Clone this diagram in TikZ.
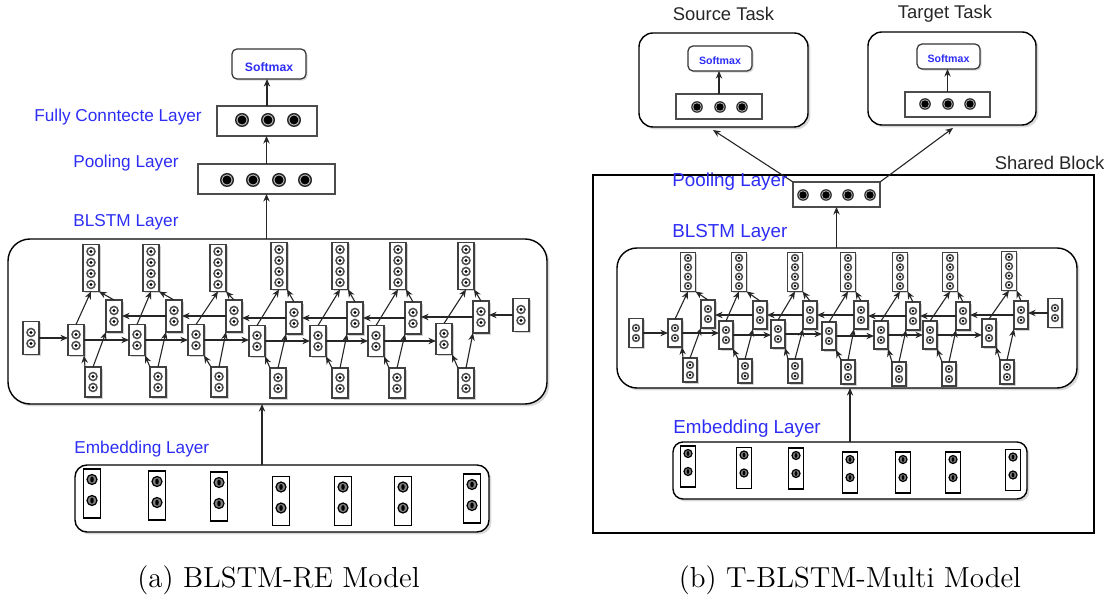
\documentclass[tikz,border=0pt]{standalone}
\usepackage{fontspec}
\setsansfont{Liberation Sans}
\usetikzlibrary{arrows.meta,calc,fit,shadows}
\definecolor{lblblue}{RGB}{45,45,245}
\tikzset{
  arr/.style={-{Stealth[length=3.8pt,width=3.2pt]}, line width=0.55pt, draw=black!85},
  cell/.style={draw=black!75, line width=0.65pt, fill=white, inner sep=0pt, outer sep=0pt,
    drop shadow={shadow xshift=0.8pt, shadow yshift=-0.8pt, opacity=0.35}},
  embcell/.style={draw=black, line width=0.6pt, fill=white, inner sep=0pt, outer sep=0pt},
  layerbox/.style={draw=black!70, line width=0.7pt, fill=white, inner sep=0pt, outer sep=0pt},
  panel/.style={draw=black, line width=0.7pt, fill=white, rounded corners=#1, inner sep=0pt,
    outer sep=0pt, drop shadow={shadow xshift=1.2pt, shadow yshift=-1.2pt, opacity=0.3}},
  softbox/.style={draw=black!80, line width=0.6pt, fill=white, rounded corners=2.5pt,
    inner sep=0pt, outer sep=0pt, text=lblblue,
    drop shadow={shadow xshift=0.8pt, shadow yshift=-0.8pt, opacity=0.3}},
  lbl/.style={font=\sffamily\fontsize{#1}{#1}\selectfont, text=lblblue, anchor=west, inner sep=0pt},
  task/.style={font=\sffamily\fontsize{9.2}{11}\selectfont, text=black!85, inner sep=0pt},
  caption/.style={font=\fontsize{14.5}{17}\selectfont, inner sep=0pt},
  dotring/.pic={\draw[black!70, line width=0.75pt, fill=white] (0,0) circle[radius=#1];
    \fill[black] (0,0) circle[radius=0.4*#1];},
  bigdot/.pic={\fill[black!85] (0,0) circle[radius=#1];
    \fill[black!25] (0,0) circle[radius=0.8*#1];
    \fill[black] (0,0) circle[radius=0.64*#1];},
  embdot/.pic={\draw[black, line width=0.6pt, fill=black!50] (0,0) circle[radius=#1];
    \fill[black] (0,0) ellipse[x radius=0.35*#1, y radius=0.6*#1];}
}
\begin{document}
\begin{tikzpicture}[x=0.5pt, y=-0.5pt]
  \useasboundingbox (0,0) rectangle (1117,603);

  % (a) BLSTM-RE Model
  \node[panel=11pt, fit={(8,239) (547,404)}] (ablstm) {};
  \node[panel=6pt, fit={(75,465) (489,532)}] (aemb) {};
  \node[layerbox, fit={(198,164) (335,194)}] (apool) {};
  \node[layerbox, fit={(217,106) (317,136)}] (afc) {};
  \node[softbox, fit={(232,49) (306,79)}] (asoft) {};
  \node[font=\sffamily\bfseries\fontsize{6.1}{7}\selectfont, text=lblblue, inner sep=0pt]
    at ($(asoft)+(0,3)$) {Softmax};
  \foreach \x in {242,268,294} \pic at (\x,120) {bigdot=3.5pt};
  \foreach \x in {227,253,279,305} \pic at (\x,180) {bigdot=3.5pt};

  \node[lbl=8.6] (afclbl) at (34,117) {Fully Conntecte Layer};
  \node[lbl=8.6] (apoollbl) at (73,163) {Pooling Layer};
  \node[lbl=8.6] (ablstmlbl) at (73,222) {BLSTM Layer};
  \node[lbl=8.6] (aemblbl) at (74,449) {Embedding Layer};

  % embedding cells
  \foreach \i/\ex/\ey in {1/92/493.5, 2/157/495.5, 3/219/496.5, 4/281/501,
    5/343/501, 6/403/501, 7/472/498.5} {
    \node[embcell, minimum width=8.5pt, minimum height=24.5pt] (ae\i) at (\ex,\ey) {};
    \foreach \d in {-14,7} \pic at ($(ae\i)+(0,\d)$) {embdot=2.5pt};
  }

  % BLSTM cells
  \node[cell, minimum width=8pt, minimum height=16.5pt] (ain) at (31,338) {};
  \node[cell, minimum width=8pt, minimum height=16.5pt] (ainr) at (521,315) {};
  \foreach \n in {ain,ainr} \foreach \d in {-5.5,5.5} \pic at ($(\n)+(0,\d)$) {dotring=2pt};
  \foreach \i/\fx/\fy/\kx/\ky/\ox/\oy/\bx/\by in {
    1/76/340/114/316/91/268/93/382,
    2/137/340/174/316/151/268/158/382,
    3/196/340/234/316/218/268/219/382,
    4/257/341/294/318/279/266/278/383,
    5/318/341/355/318/340/266/340/383,
    6/376/341/413/318/398/266/397/383,
    7/444/339/481/317/466/266/466/383} {
    \node[cell, minimum width=8pt, minimum height=15.5pt] (af\i) at (\fx,\fy) {};
    \node[cell, minimum width=8pt, minimum height=16pt] (ak\i) at (\kx,\ky) {};
    \node[cell, minimum width=8pt, minimum height=23.5pt] (ao\i) at (\ox,\oy) {};
    \node[cell, minimum width=8pt, minimum height=15pt] (ab\i) at (\bx,\by) {};
    \foreach \n in {af\i,ak\i,ab\i} \foreach \d in {-5.5,5.5} \pic at ($(\n)+(0,\d)$) {dotring=2pt};
    \foreach \d in {-16.5,-5.5,5.5,16.5} \pic at ($(ao\i)+(0,\d)$) {dotring=2pt};
  }
  \foreach \i in {1,...,7} {
    \draw[arr] (ab\i.north west) -- (af\i.south east);
    \draw[arr] (ab\i.north) -- (ak\i.south west);
    \draw[arr] (af\i.north) -- (ao\i.south);
    \draw[arr] (ak\i.north) -- (ao\i.south east);
  }
  \foreach \i [evaluate=\i as \j using int(\i+1)] in {1,...,6} {
    \draw[arr] (af\i.east) -- (af\i.east -| af\j.west);
    \draw[arr] (ak\j.west) -- (ak\j.west -| ak\i.east);
  }
  \draw[arr] (ain.east) -- (ain.east -| af1.west);
  \draw[arr] (ainr.west) -- (ainr.west -| ak7.east);

  % (a) layer connections
  \coordinate (aembout) at (262,465);
  \draw[arr] (aembout) -- (aembout |- ablstm.south);
  \draw[arr] (ablstm.north -| apool.south) -- (apool.south);
  \draw[arr] (apool.north) -- (apool.north |- afc.south);
  \draw[arr] (afc.north) -- (afc.north |- asoft.south);

  % (b) T-BLSTM-Multi Model
  \draw[black, line width=0.6pt] (593,175) rectangle (1094,533);
  \node[task] (shared) at (1049.5,163) {Shared Block};
  \node[task] (srclbl) at (723.5,14) {Source Task};
  \node[task] (tgtlbl) at (945,14) {Target Task};

  \node[panel=7pt, fit={(639,33) (808,127)}] (bsrc) {};
  \node[panel=7pt, fit={(868,32) (1036,125)}] (btgt) {};
  \node[softbox, fit={(688,46) (752,71)}] (bsrcsoft) {};
  \node[softbox, fit={(917,44) (980,69)}] (btgtsoft) {};
  \node[font=\sffamily\bfseries\fontsize{5.3}{6}\selectfont, text=lblblue, inner sep=0pt]
    at ($(bsrcsoft)+(0,2)$) {Softmax};
  \node[font=\sffamily\bfseries\fontsize{5.3}{6}\selectfont, text=lblblue, inner sep=0pt]
    at ($(btgtsoft)+(0,2)$) {Softmax};
  \node[layerbox, fit={(676,94) (762,119)}] (bsrcfc) {};
  \node[layerbox, fit={(905,92) (990,117)}] (btgtfc) {};
  \foreach \x in {697,720,742} \pic at (\x,107) {bigdot=2.9pt};
  \foreach \x in {925,948,970} \pic at (\x,104) {bigdot=2.9pt};
  \draw[arr] (bsrcfc.north) -- (bsrcfc.north |- bsrcsoft.south);
  \draw[arr] (btgtfc.north) -- (btgtfc.north |- btgtsoft.south);

  \node[layerbox, fit={(793,182) (880,207)}] (bpool) {};
  \foreach \x in {803,826,848,870} \pic at (\x,195) {bigdot=2.9pt};
  \draw[arr] (bpool.north west) -- ([xshift=-5.25pt, yshift=-1.5pt]bsrc.south);
  \draw[arr] (bpool.north east) -- ([xshift=0.5pt, yshift=-1.5pt]btgt.south);

  \node[panel=10pt, fit={(617,248) (1077,388)}] (bblstm) {};
  \node[panel=5pt, fit={(673,442) (1027,499)}] (bemb) {};

  \node[lbl=9.4] (bpoollbl) at (672,182) {Pooling Layer};
  \node[lbl=9.4] (bblstmlbl) at (672,233) {BLSTM Layer};
  \node[lbl=9.4] (bemblbl) at (673,429) {Embedding Layer};

  % embedding cells
  \foreach \i/\ex/\ey in {1/688/466.5, 2/744/468, 3/796/468.5, 4/850/472.5,
    5/903/472.5, 6/953/472.5, 7/1013/470} {
    \node[embcell, minimum width=7.5pt, minimum height=20.5pt] (be\i) at (\ex,\ey) {};
    \foreach \d in {-13,5} \pic at ($(be\i)+(0,\d)$) {embdot=2pt};
  }

  % BLSTM cells
  \node[cell, minimum width=7pt, minimum height=14.5pt] (bin) at (636,333) {};
  \node[cell, minimum width=7pt, minimum height=14.5pt] (binr) at (1055,313) {};
  \foreach \n in {bin,binr} \foreach \d in {-5,5} \pic at ($(\n)+(0,\d)$) {dotring=1.7pt};
  \foreach \i/\fx/\fy/\kx/\ky/\ox/\oy/\bx/\by in {
    1/675/333/708/314/688/272/690/370,
    2/726/335/760/315/739/272/745/371,
    3/778/334/810/315/795/272/795/371,
    4/829/336/861/315/848/272/848/372,
    5/881/335/913/316/900/272/899/374,
    6/930/335/963/316/950/272/949/374,
    7/989/333/1021/315/1009/271/1007/372} {
    \node[cell, minimum width=7pt, minimum height=14pt] (bf\i) at (\fx,\fy) {};
    \node[cell, minimum width=7pt, minimum height=14pt] (bk\i) at (\kx,\ky) {};
    \node[cell, minimum width=7.5pt, minimum height=19.5pt] (bo\i) at (\ox,\oy) {};
    \node[cell, minimum width=7pt, minimum height=12pt] (bb\i) at (\bx,\by) {};
    \foreach \n in {bf\i,bk\i,bb\i} \foreach \d in {-5,5} \pic at ($(\n)+(0,\d)$) {dotring=1.7pt};
    \foreach \d in {-14,-4.7,4.7,14} \pic at ($(bo\i)+(0,\d)$) {dotring=1.7pt};
  }
  \foreach \i in {1,...,7} {
    \draw[arr] (bb\i.north west) -- (bf\i.south east);
    \draw[arr] (bb\i.north) -- (bk\i.south west);
    \draw[arr] (bf\i.north) -- (bo\i.south);
    \draw[arr] (bk\i.north) -- (bo\i.south east);
  }
  \foreach \i [evaluate=\i as \j using int(\i+1)] in {1,...,6} {
    \draw[arr] (bf\i.east) -- (bf\i.east -| bf\j.west);
    \draw[arr] (bk\j.west) -- (bk\j.west -| bk\i.east);
  }
  \draw[arr] (bin.east) -- (bin.east -| bf1.west);
  \draw[arr] (binr.west) -- (binr.west -| bk7.east);

  % (b) layer connections
  \draw[arr] (bemb.north) -- (bemb.north |- bblstm.south);
  \draw[arr] (bblstm.north -| bpool.south) -- (bpool.south);

  % Captions
  \node[caption] (acap) at (278.5,580) {(a) BLSTM-RE Model};
  \node[caption] (bcap) at (850,580) {(b) T-BLSTM-Multi Model};

\end{tikzpicture}
\end{document}
